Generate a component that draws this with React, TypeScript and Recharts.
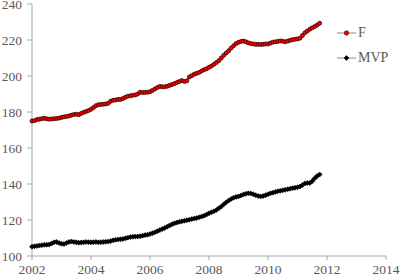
import { LineChart, Line, XAxis, YAxis } from "recharts";

// monthly values, Jan 2002 .. Oct 2011
const fValues = [
  175.0, 175.2, 175.8, 176.0, 176.3, 176.5, 176.2, 176.0, 176.1, 176.3, 176.4, 176.6,
  177.0, 177.3, 177.5, 177.8, 178.2, 178.6, 178.8, 178.5, 179.2, 179.8, 180.3, 180.8,
  181.5, 182.5, 183.5, 184.0, 184.2, 184.3, 184.5, 184.8, 186.0, 186.5, 186.7, 187.0,
  187.0, 187.5, 188.2, 188.8, 189.0, 189.3, 189.5, 190.0, 191.0, 190.8, 190.9, 191.0,
  191.3, 192.0, 192.8, 193.6, 194.2, 194.0, 194.0, 194.3, 194.8, 195.3, 195.8, 196.4,
  197.0, 197.5, 197.0, 197.3, 199.5, 200.2, 201.0, 201.5, 202.0, 202.8, 203.5, 204.0,
  204.8, 205.5, 206.5, 207.5, 208.5, 210.0, 211.5, 212.8, 214.0, 215.5, 216.8, 218.0,
  218.7, 219.2, 219.4, 219.0, 218.4, 218.0, 217.8, 217.6, 217.6, 217.5, 217.6, 217.8,
  217.8, 218.3, 218.8, 219.0, 219.2, 219.5, 219.3, 219.0, 219.4, 219.8, 220.2, 220.4,
  220.6, 221.0, 222.5, 224.0, 225.0, 226.0, 226.8, 227.5, 228.3, 229.3,
];

const mvpValues = [
  105.2, 105.4, 105.6, 105.8, 106.0, 106.2, 106.3, 106.4, 107.0, 107.6, 107.8, 107.2,
  106.8, 106.6, 107.2, 107.8, 108.0, 107.8, 107.6, 107.4, 107.5, 107.6, 107.8, 107.7,
  107.6, 107.7, 107.8, 107.6, 107.7, 107.8, 107.9, 108.0, 108.3, 108.7, 109.0, 109.2,
  109.3, 109.5, 109.8, 110.2, 110.5, 110.7, 110.8, 110.8, 111.0, 111.3, 111.6, 111.8,
  112.2, 112.7, 113.2, 113.8, 114.4, 115.0, 115.6, 116.3, 117.0, 117.7, 118.2, 118.6,
  119.0, 119.3, 119.6, 119.9, 120.2, 120.5, 120.8, 121.1, 121.5, 121.9, 122.4, 123.0,
  123.7, 124.3, 124.8, 125.6, 126.5, 127.5, 128.7, 129.8, 130.8, 131.7, 132.4, 132.8,
  133.1, 133.6, 134.2, 134.6, 134.8, 134.7, 134.3, 133.8, 133.3, 133.1, 133.3, 133.8,
  134.3, 134.8, 135.2, 135.6, 136.0, 136.2, 136.5, 136.8, 137.1, 137.4, 137.7, 137.9,
  138.2, 138.6, 139.4, 140.3, 140.6, 140.5, 141.6, 143.2, 144.5, 145.3,
];

const xTicks = [2002, 2004, 2006, 2008, 2010, 2012, 2014];
const yTicks = [100, 120, 140, 160, 180, 200, 220, 240];

const data = fValues.map((f, i) => ({
  x: 2002 + i / 12,
  F: f,
  MVP: mvpValues[i],
}));

const font = "'Liberation Serif', 'Times New Roman', serif";
const textColor = "#595959";
const axisColor = "#a6a6a6";

// small black diamond for the MVP series
function Diamond(props: any) {
  const { cx, cy } = props;
  if (cx == null || cy == null) return null;
  const s = 2.5;
  return (
    <polygon
      points={`${cx},${cy - s} ${cx + s},${cy} ${cx},${cy + s} ${cx - s},${cy}`}
      fill="#000"
      stroke="#000"
      strokeWidth={0.6}
    />
  );
}

function Legend() {
  const row = (label: string, marker: React.ReactNode, top: number) => (
    <div style={{ position: "absolute", left: 337, top, height: 16, display: "flex", alignItems: "center" }}>
      <svg width={19} height={16}>
        <line x1={0} y1={8} x2={19} y2={8} stroke="#888" strokeWidth={1} />
        {marker}
      </svg>
      <span style={{ fontFamily: font, fontSize: 14, color: textColor, marginLeft: 2 }}>{label}</span>
    </div>
  );
  return (
    <>
      {row("F", <circle cx={9.5} cy={8} r={2.2} fill="#ff0000" stroke="#600000" strokeWidth={0.7} />, 25)}
      {row("MVP", <Diamond cx={9.5} cy={8} />, 50)}
    </>
  );
}

export default function App() {
  return (
    <div style={{ position: "fixed", left: 0, top: 0, width: 400, height: 277, background: "#fff" }}>
      <LineChart width={400} height={277} data={data} margin={{ top: 4, right: 14, bottom: 0, left: 0 }}>
        <XAxis
          type="number"
          dataKey="x"
          domain={[2002, 2014]}
          ticks={xTicks}
          interval={0}
          height={21}
          tickSize={4}
          stroke={axisColor}
          tick={{ fill: textColor, fontSize: 13.5, fontFamily: font }}
          tickMargin={4}
        />
        <YAxis
          type="number"
          domain={[100, 240]}
          ticks={yTicks}
          interval={0}
          width={32}
          tickSize={5}
          stroke={axisColor}
          tick={{ fill: textColor, fontSize: 13.5, fontFamily: font }}
          tickMargin={5}
        />
        <Line
          dataKey="MVP"
          stroke="#000"
          strokeWidth={1}
          dot={<Diamond />}
          isAnimationActive={false}
        />
        <Line
          dataKey="F"
          stroke="#400000"
          strokeWidth={1}
          dot={{ r: 2, fill: "#ff0000", stroke: "#300000", strokeWidth: 0.8 }}
          isAnimationActive={false}
        />
      </LineChart>
      <Legend />
    </div>
  );
}
